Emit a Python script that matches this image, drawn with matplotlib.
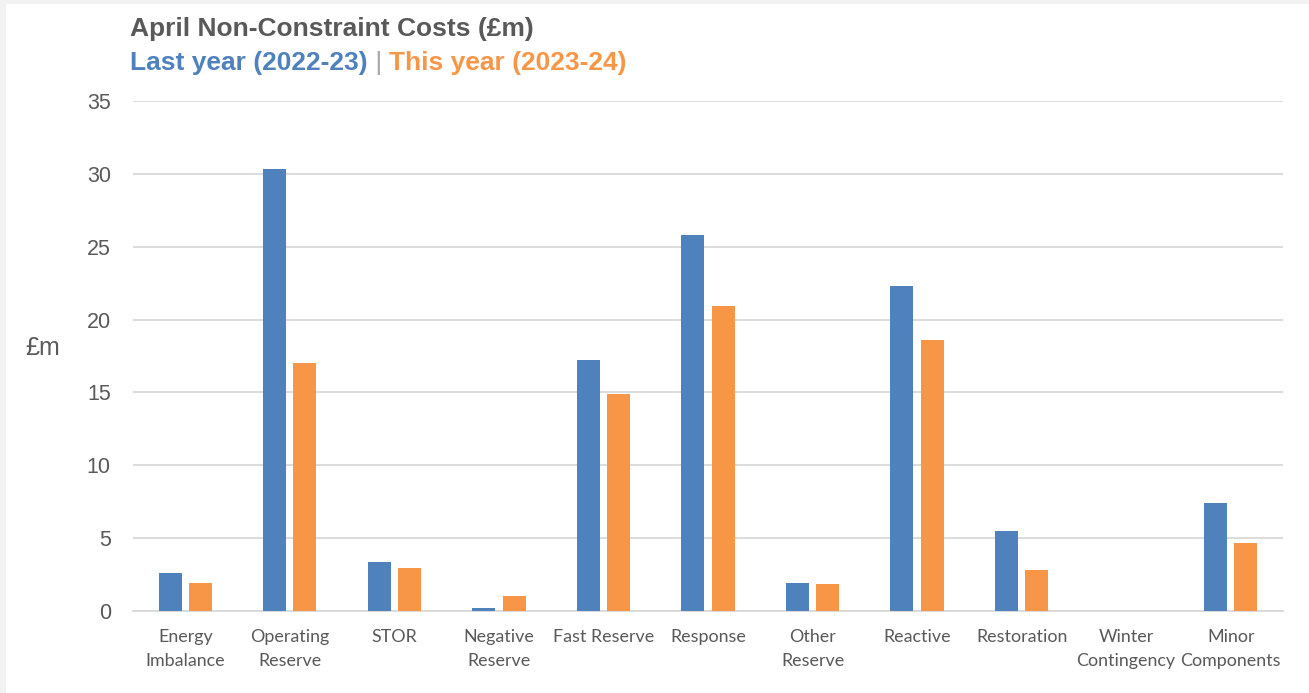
import matplotlib
matplotlib.use("Agg")
import matplotlib.pyplot as plt
import numpy as np

categories = ["Energy\nImbalance", "Operating\nReserve", "STOR", "Negative\nReserve",
              "Fast Reserve", "Response", "Other\nReserve", "Reactive",
              "Restoration", "Winter\nContingency", "Minor\nComponents"]
last_year = [2.6, 30.3, 3.35, 0.2, 17.2, 25.8, 1.9, 22.3, 5.5, 0.0, 7.4]
this_year = [1.9, 17.0, 2.95, 1.0, 14.9, 20.9, 1.85, 18.6, 2.8, 0.0, 4.7]
yticks = [0, 5, 10, 15, 20, 25, 30, 35]

BLUE = "#4F81BD"
ORANGE = "#F79646"
GRAY = "#595959"
GRID = "#D9D9D9"

fig = plt.figure(figsize=(13.09, 6.93), dpi=100)
fig.patch.set_facecolor("#F2F2F2")
bg = fig.add_axes([6 / 1309, 0, 1 - 6 / 1309, 1 - 4 / 693], zorder=0)
bg.set_facecolor("white")
bg.set_axis_off()
bg.add_patch(plt.Rectangle((0, 0), 1, 1, transform=bg.transAxes,
                           facecolor="white", edgecolor="none"))

ax = fig.add_axes([133 / 1309, 1 - 611 / 693, 1150 / 1309, 510 / 693], zorder=2)
ax.set_facecolor("none")
x = np.arange(len(categories))
w = 0.22
off = 0.145
ax.bar(x - off, last_year, w, color=BLUE, zorder=3)
ax.bar(x + off, this_year, w, color=ORANGE, zorder=3)

ax.set_xlim(-0.5, len(categories) - 0.5)
ax.set_ylim(0, 35)
ax.set_yticks(yticks)
ax.set_yticklabels([str(v) for v in yticks], family="Liberation Sans",
                   fontsize=15.5, color=GRAY)
ax.set_xticks(x)
ax.set_xticklabels(categories, family="Lato", fontsize=12.9, color=GRAY,
                   linespacing=1.6)
ax.tick_params(axis="both", length=0)
ax.tick_params(axis="y", pad=16)
ax.tick_params(axis="x", pad=13)
ax.grid(axis="y", color=GRID, linewidth=1.3, zorder=0)
for s in ["top", "right", "left"]:
    ax.spines[s].set_visible(False)
ax.spines["bottom"].set_color(GRID)
ax.spines["bottom"].set_linewidth(1.3)

fig.text(25 / 1309, 1 - 348 / 693, "£m", family="Liberation Sans", fontsize=18,
         color=GRAY, va="center", ha="left", zorder=3)

fig.text(130 / 1309, 1 - 29 / 693, "April Non-Constraint Costs (£m)",
         family="Liberation Sans", fontweight="bold", fontsize=19,
         color=GRAY, va="center", ha="left", zorder=3)

renderer = fig.canvas.get_renderer()
parts = [("Last year (2022-23)", BLUE, "bold"), (" | ", "#A6A6A6", "normal"),
         ("This year (2023-24)", ORANGE, "bold")]
xpos = 130 / 1309
for txt, col, fw in parts:
    t = fig.text(xpos, 1 - 63 / 693, txt, family="Liberation Sans",
                 fontweight=fw, fontsize=19, color=col, va="center",
                 ha="left", zorder=3)
    bb = t.get_window_extent(renderer=renderer)
    xpos = fig.transFigure.inverted().transform((bb.x1, bb.y0))[0]

fig.savefig("out.png", dpi=100, facecolor=fig.get_facecolor())
